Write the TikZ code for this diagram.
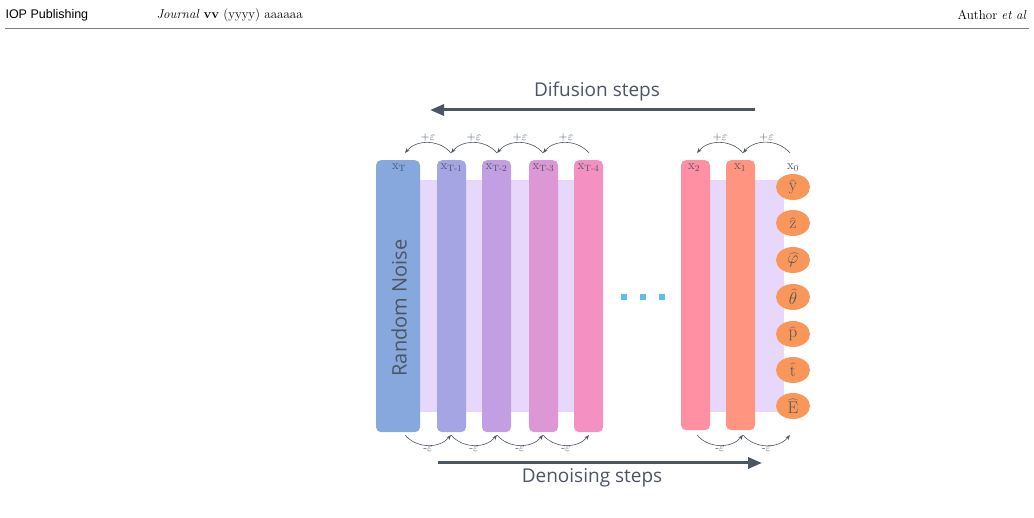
\documentclass[tikz,border=0pt]{standalone}
\usepackage{fontspec}
\newfontfamily\labelfont{Open Sans}
\newfontfamily\headfont{Liberation Sans}
\usetikzlibrary{arrows.meta,shapes.geometric}

\definecolor{ink}{HTML}{4B5563}
\definecolor{lav}{HTML}{E6D7FB}
\definecolor{cT}{HTML}{86A8DD}
\definecolor{cTa}{HTML}{A5A5E3}
\definecolor{cTb}{HTML}{C29FE2}
\definecolor{cTc}{HTML}{DD97D5}
\definecolor{cTd}{HTML}{F491C2}
\definecolor{cTwo}{HTML}{FF8FA3}
\definecolor{cOne}{HTML}{FF9580}
\definecolor{cOut}{HTML}{F9965A}
\definecolor{dots}{HTML}{5BC0EB}

\tikzset{
  column/.style={rounded corners=5pt, minimum width=29pt, minimum height=272pt, anchor=north, inner sep=0pt},
  outnode/.style={ellipse, fill=cOut, minimum width=34pt, minimum height=26pt, inner sep=0pt, font=\fontsize{17}{17}\selectfont, text=ink},
  collabel/.style={font=\fontsize{13}{13}\selectfont, text=ink},
  eps/.style={font=\fontsize{12}{12}\selectfont, text=ink, inner sep=1pt},
  hop/.style={ink, semithick, -{Stealth[length=5pt]}},
  bigarrow/.style={ink, line width=3pt, -{Triangle[length=14pt,width=11pt]}},
  headtext/.style={font=\fontsize{13}{13}\selectfont},
}

\begin{document}
\begin{tikzpicture}[x=1pt, y=-1pt]
  \useasboundingbox (0,0) rectangle (1034,518);

  % header
  \node (pub) [anchor=west, font=\headfont\fontsize{12.5}{13}\selectfont] at (2,15) {IOP Publishing};
  \node (jour) [anchor=west, headtext] at (153,15) {\textit{Journal} \textbf{vv} (yyyy) aaaaaa};
  \node (auth) [anchor=east, headtext] at (1030,15) {Author \textit{et al}};
  \draw [gray, thin] (5,28) -- (1029,28);

  % backgrounds
  \fill [lav] (400,180) rectangle (600,412);
  \fill [lav] (700,180) rectangle (784,412);

  % columns
  \node (xT) [column, fill=cT, minimum width=44pt] at (398,160) {};
  \node (xTa) [column, fill=cTa] at (451.5,160) {};
  \node (xTb) [column, fill=cTb] at (496.5,160) {};
  \node (xTc) [column, fill=cTc] at (543.5,160) {};
  \node (xTd) [column, fill=cTd] at (588.5,160) {};
  \node (xtwo) [column, fill=cTwo, minimum height=270pt] at (695.5,160) {};
  \node (xone) [column, fill=cOne, minimum height=270pt] at (740.5,160) {};

  \node [collabel] at (399,168) {x\textsubscript{T}};
  \node [collabel] at (451.5,168) {x\textsubscript{T-1}};
  \node [collabel] at (496.5,168) {x\textsubscript{T-2}};
  \node [collabel] at (543.5,168) {x\textsubscript{T-3}};
  \node [collabel] at (588.5,168) {x\textsubscript{T-4}};
  \node [collabel] at (694,168) {x\textsubscript{2}};
  \node [collabel] at (740,168) {x\textsubscript{1}};
  \node (xzero) [collabel] at (793,168) {x\textsubscript{0}};

  \node (noise) [rotate=90, font=\labelfont\fontsize{20}{20}\selectfont, text=ink] at (399,308) {Random Noise};

  % outputs
  \node (oy) [outnode] at (793,187) {$\widehat{\mathrm{y}}$};
  \node (oz) [outnode] at (793,223) {$\widehat{\mathrm{z}}$};
  \node (ophi) [outnode] at (793,260) {$\widehat{\varphi}$};
  \node (oth) [outnode] at (793,297) {$\widehat{\theta}$};
  \node (op) [outnode] at (793,334) {$\widehat{\mathrm{p}}$};
  \node (ot) [outnode] at (793,370) {$\widehat{\mathrm{t}}$};
  \node (oE) [outnode] at (793,406) {$\widehat{\mathrm{E}}$};

  % gap dots
  \foreach \x in {624,643,662}
    \fill [dots] (\x-3,294) rectangle (\x+3,300);

  % hop anchors
  \foreach \n/\x in {a/405,b/451,c/497,d/543,e/589,f/697,g/743,h/790} {
    \coordinate (top\n) at (\x,153);
    \coordinate (bot\n) at (\x,435);
  }

  % forward hops
  \foreach \s/\t in {e/d,d/c,c/b,b/a,h/g,g/f} {
    \draw [hop] (top\s) to [bend right=50] node [eps, above] {+$\varepsilon$} (top\t);
  }
  % reverse hops
  \foreach \s/\t in {a/b,b/c,c/d,d/e,f/g,g/h} {
    \draw [hop] (bot\s) to [bend right=50] node [eps, below] {-$\varepsilon$} (bot\t);
  }

  % main arrows
  \coordinate (difA) at (755,110);
  \coordinate (difB) at (430,110);
  \coordinate (denA) at (438,463);
  \coordinate (denB) at (762,463);
  \draw [bigarrow] (difA) -- (difB);
  \draw [bigarrow] (denA) -- (denB);
  \node (diff) [font=\labelfont\fontsize{19}{19}\selectfont, text=ink] at (597,92) {Difusion steps};
  \node (deno) [font=\labelfont\fontsize{19}{19}\selectfont, text=ink] at (592,478) {Denoising steps};

\end{tikzpicture}
\end{document}
